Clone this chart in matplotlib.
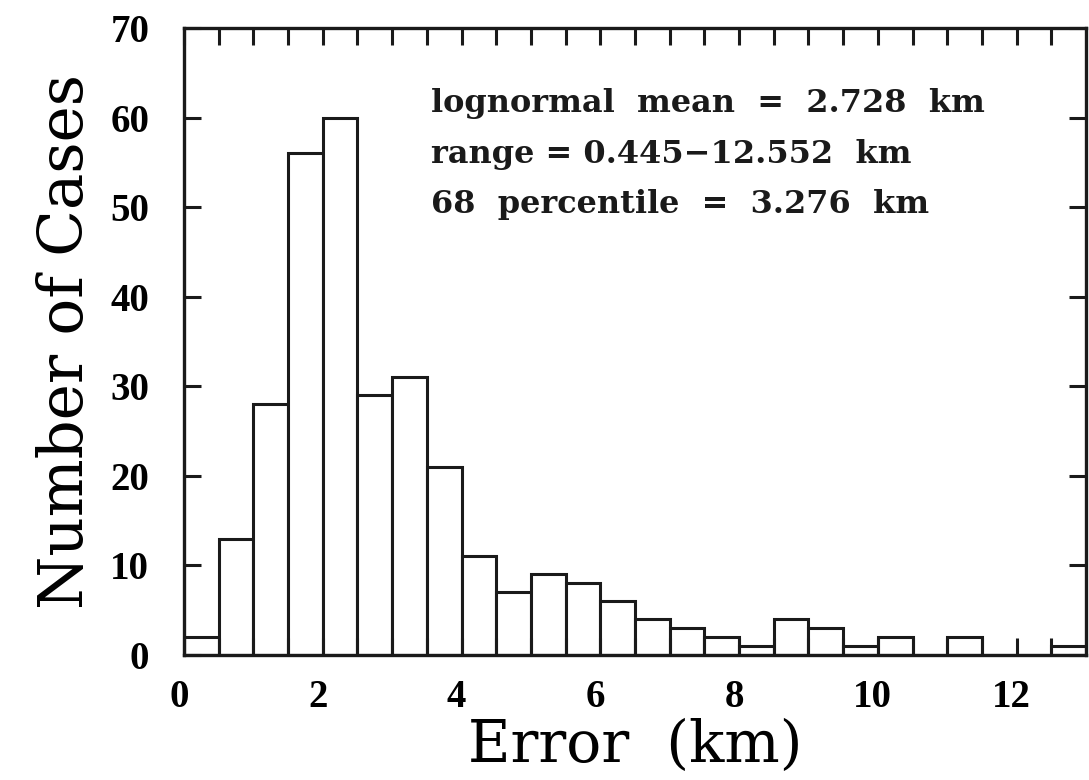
import numpy as np
import matplotlib
matplotlib.use("Agg")
import matplotlib.pyplot as plt
from matplotlib.transforms import ScaledTranslation

# histogram of location errors, 0.5 km bins
bin_edges = np.arange(0, 13.01, 0.5)
counts = [2, 13, 28, 56, 60, 29, 31, 21, 11, 7, 9, 8, 6,
          4, 3, 2, 1, 4, 3, 1, 2, 0, 2, 0, 0, 1]

stats_lines = ["lognormal  mean  =  2.728  km",
               "range = 0.445\u221212.552  km",
               "68  percentile  =  3.276  km"]

x_ticks = [0, 2, 4, 6, 8, 10, 12]
y_ticks = [0, 10, 20, 30, 40, 50, 60, 70]

plt.rcParams['font.family'] = ['DejaVu Serif']
tick_font = dict(family='Liberation Serif', size=28, weight='bold')

fig = plt.figure(figsize=(10.89, 7.8), dpi=100)
ax = fig.add_axes([184 / 1089, 1 - 655 / 780, 902 / 1089, 627 / 780])

ax.bar(bin_edges[:-1], counts, width=0.5, align='edge',
       facecolor='white', edgecolor='#1a1a1a', linewidth=2.2)

ax.set_xlim(0, 13)
ax.set_ylim(0, 70)

for s in ax.spines.values():
    s.set_linewidth(2.4)
    s.set_color('#1a1a1a')

ax.set_xticks(x_ticks)
ax.set_xticks(np.arange(0.5, 13, 0.5), minor=True)
ax.set_yticks(y_ticks)
ax.tick_params(axis='both', which='both', direction='in', width=2.2, color='#1a1a1a')
ax.tick_params(axis='x', which='both', top=True, bottom=True, length=12, pad=17)
ax.tick_params(axis='y', which='major', left=True, right=True, length=12, pad=25)
ax.set_xticklabels([str(v) for v in x_ticks], fontdict=tick_font)
ax.set_yticklabels([str(v) for v in y_ticks], fontdict=tick_font)
for lab in ax.get_xticklabels():
    lab.set_transform(lab.get_transform() + ScaledTranslation(-0.05, 0, fig.dpi_scale_trans))

ax.set_xlabel('Error  (km)', fontsize=42, labelpad=2)
ax.set_ylabel('Number of Cases', fontsize=44, labelpad=10)

ys = [0.880, 0.799, 0.718]
for txt, yy in zip(stats_lines, ys):
    ax.text(0.274, yy, txt, transform=ax.transAxes, fontsize=23,
            fontweight='bold', ha='left', va='center', color='#1a1a1a')

fig.savefig('out.png', dpi=100)
